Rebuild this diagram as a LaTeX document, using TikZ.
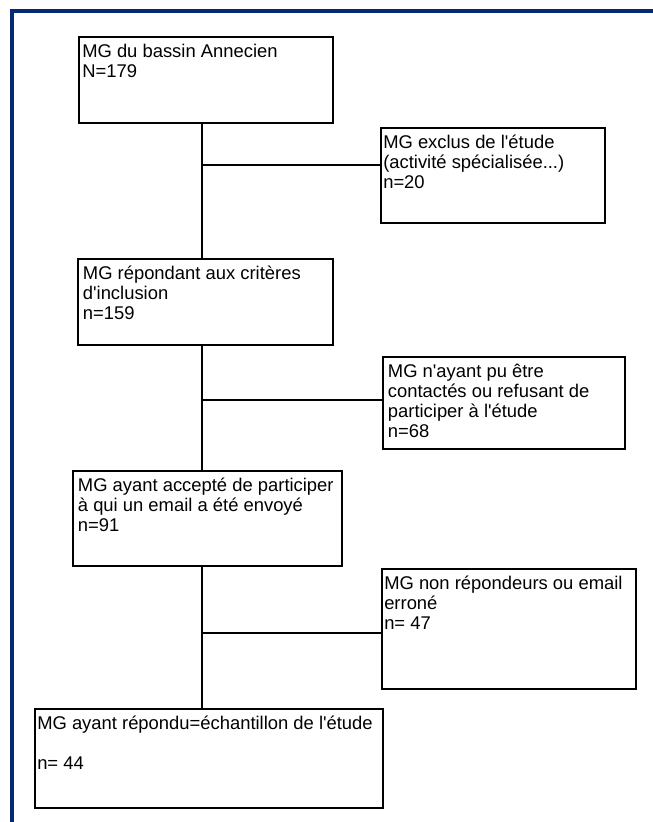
\documentclass[tikz,border=0pt]{standalone}
\usepackage{fontspec}
\setmainfont{Liberation Sans}
\definecolor{navy}{RGB}{8,40,115}
\newcommand{\firststrut}{\rule{0pt}{15.4pt}}
\newcommand{\apos}{\textquotesingle}
\begin{document}
\begin{tikzpicture}[x=0.75pt,y=-0.75pt,
  box/.style={draw, line width=2.2pt, fill=white, anchor=north west, inner sep=0pt, outer sep=0pt},
  txt/.style={anchor=north west, inner sep=0pt, align=left, font=\fontsize{13.8pt}{15pt}\selectfont},
  link/.style={line width=1.7pt}]
\useasboundingbox (0,0) rectangle (653,822);
\draw[navy, line width=3pt] (12,822) -- (12,11) -- (653,11);

% junction points on the trunk
\coordinate (tk) at (202,0);
\coordinate (j1) at (202,165);
\coordinate (j2) at (202,400);
\coordinate (j3) at (202,633);

% boxes
\node[box, minimum width=190.5pt, minimum height=64.5pt] (b1) at (79,37) {};
\node[box, minimum width=168pt, minimum height=71.25pt] (b2) at (381,128) {};
\node[box, minimum width=191.25pt, minimum height=64.5pt] (b3) at (78,259) {};
\node[box, minimum width=181.5pt, minimum height=69pt] (b4) at (383,357) {};
\node[box, minimum width=201.75pt, minimum height=71.25pt] (b5) at (73,471) {};
\node[box, minimum width=190.5pt, minimum height=90pt] (b6) at (382,569) {};
\node[box, minimum width=261pt, minimum height=74.25pt] (b7) at (35,709) {};

% connectors
\draw[link] (b1.south -| tk) -- (b3.north -| tk);
\draw[link] (b3.south -| tk) -- (b5.north -| tk);
\draw[link] (b5.south -| tk) -- (b7.north -| tk);
\draw[link] (j1) -- (j1 -| b2.west);
\draw[link] (j2) -- (j2 -| b4.west);
\draw[link] (j3) -- (j3 -| b6.west);

% texts
\node[txt] (t1) at ([xshift=2.25pt]b1.north west) {\firststrut MG du bassin Annecien\\N=179};
\node[txt] (t2) at ([xshift=1.5pt]b2.north west) {\firststrut MG exclus de l\apos étude\\(activité spécialisée...)\\n=20};
\node[txt] (t3) at ([xshift=3.5pt]b3.north west) {\firststrut MG répondant aux critères\\d\apos inclusion\\n=159};
\node[txt] (t4) at ([xshift=3.5pt]b4.north west) {\firststrut MG n\apos ayant pu être\\contactés ou refusant de\\participer à l\apos étude\\n=68};
\node[txt] (t5) at ([xshift=3.5pt]b5.north west) {\firststrut MG ayant accepté de participer\\à qui un email a été envoyé\\n=91};
\node[txt] (t6) at ([xshift=1.5pt]b6.north west) {\firststrut MG non répondeurs ou email\\erroné\\n= 47};
\node[txt] (t7) at ([xshift=1.5pt]b7.north west) {\firststrut MG ayant répondu=échantillon de l\apos étude\\[15pt]n= 44};
\end{tikzpicture}
\end{document}
